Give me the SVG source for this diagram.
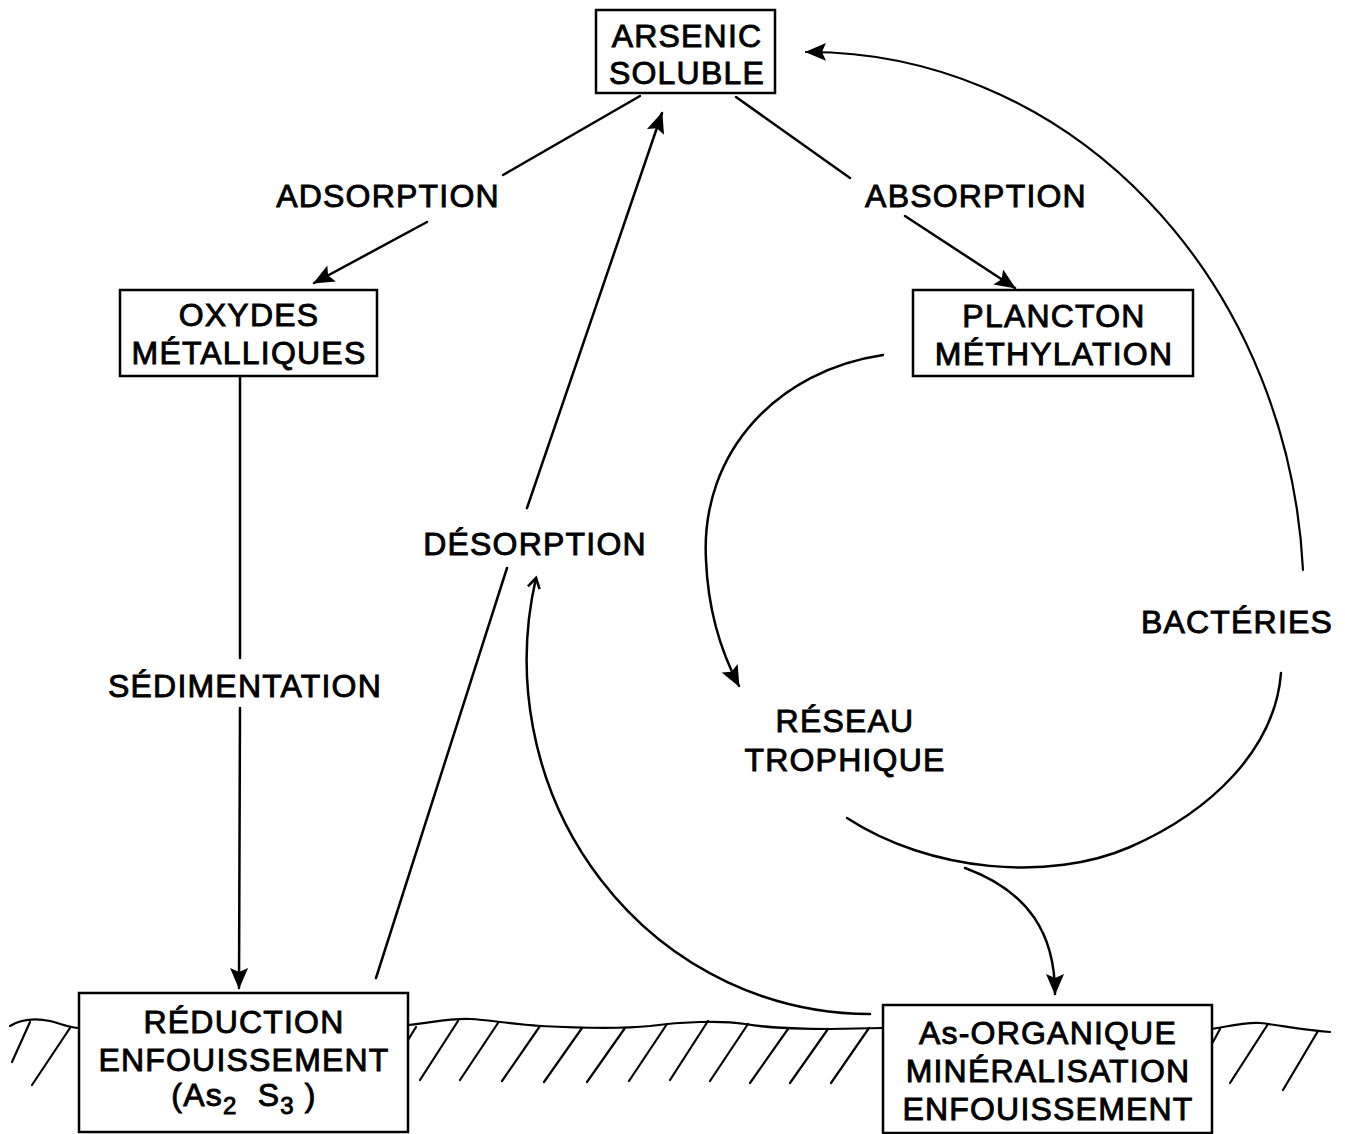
<svg xmlns="http://www.w3.org/2000/svg" width="1345" height="1134" viewBox="0 0 1345 1134">
<style>
.bx{fill:#fff;stroke:#000;stroke-width:2.5}
.t{font-family:"Liberation Sans",Arial,sans-serif;font-size:32px;letter-spacing:1.2px;text-anchor:middle;fill:#000;stroke:#000;stroke-width:0.9}
.c{fill:none;stroke:#000;stroke-width:2.5;stroke-linecap:round}
.g{fill:none;stroke:#000;stroke-width:2.2;stroke-linecap:round}
</style>
<defs>
<marker id="ah" markerUnits="userSpaceOnUse" markerWidth="24" markerHeight="20" refX="20" refY="9" orient="auto" viewBox="0 0 24 20">
<path d="M0,0 L21,9 L0,18 L4,9 Z" fill="#000"/>
</marker>
<marker id="ao" markerUnits="userSpaceOnUse" markerWidth="16" markerHeight="16" refX="12" refY="7" orient="auto" viewBox="0 0 16 16">
<path d="M2,1 L12,7 L2,13" fill="none" stroke="#000" stroke-width="2.6"/>
</marker>
</defs>
<rect width="1345" height="1134" fill="#fff"/>

<g id="ground">
<path class="g" d="M10,1026 C20,1020 35,1018 50,1021 C62,1024 70,1028 79,1028"/>
<path class="g" d="M30,1022 L12,1062 M70,1028 L32,1085"/>
<path class="g" d="M408,1025 C430,1023 450,1018 470,1019 C490,1020 510,1024 540,1026 C580,1028 620,1029 650,1026 C680,1022 720,1020 745,1024 C770,1028 790,1029 830,1029 L883,1028"/>
<path class="g" d="M416,1027 L408,1040 M458,1021 L420,1080 M498,1023 L460,1080 M540,1026 L502,1081 M582,1028 L544,1082 M625,1028 L587,1082 M667,1024 L629,1081 M708,1021 L670,1080 M748,1024 L710,1081 M788,1029 L750,1083 M828,1029 L790,1083 M869,1028 L831,1083"/>
<path class="g" d="M1212,1029 C1230,1026 1245,1022 1260,1023 C1280,1025 1300,1030 1330,1032"/>
<path class="g" d="M1220,1029 L1213,1042 M1268,1024 L1230,1083 M1318,1031 L1283,1090"/>
</g>

<g id="connectors">
<path class="c" d="M640,96 L503,175"/>
<path class="c" d="M427,222 L314,283" marker-end="url(#ah)"/>
<path class="c" d="M736,97 L850,178"/>
<path class="c" d="M905,216 L1015,288" marker-end="url(#ah)"/>
<path class="c" d="M240,377 L240,658"/>
<path class="c" d="M240,708 L239,988" marker-end="url(#ah)"/>
<path class="c" d="M376,978 L507,568"/>
<path class="c" d="M527,508 L662,113" marker-end="url(#ah)"/>
<path class="c" d="M870,1014 A343,354 0 0 1 536,578" marker-end="url(#ao)"/>
<path class="c" d="M883,355 C780,370 700,450 706,560 C708,610 720,650 739,686" marker-end="url(#ah)"/>
<path class="c" d="M847,818 C930,872 1050,882 1130,847 C1210,812 1275,750 1281,673"/>
<path class="c" d="M965,868 C1030,892 1055,935 1055,994" marker-end="url(#ah)"/>
<path class="c" style="stroke-width:2.2" d="M1303,570 A495,548 0 0 0 806,52" marker-end="url(#ah)"/>
</g>

<g id="n-arsenic">
<rect class="bx" x="596" y="10" width="179" height="83"/>
<text class="t" x="687" y="47">ARSENIC</text>
<text class="t" x="687" y="84">SOLUBLE</text>
</g>
<g id="n-oxydes">
<rect class="bx" x="120" y="290" width="257" height="86"/>
<text class="t" x="249" y="326">OXYDES</text>
<text class="t" x="249" y="364">MÉTALLIQUES</text>
</g>
<g id="n-plancton">
<rect class="bx" x="913" y="290" width="280" height="86"/>
<text class="t" x="1054" y="327">PLANCTON</text>
<text class="t" x="1054" y="365">MÉTHYLATION</text>
</g>
<g id="n-reduction">
<rect class="bx" x="79" y="993" width="329" height="139"/>
<text class="t" x="244" y="1033">RÉDUCTION</text>
<text class="t" x="244" y="1071">ENFOUISSEMENT</text>
<text class="t" x="244" y="1106">(As<tspan font-size="24" dy="8">2</tspan><tspan dy="-8" xml:space="preserve">  S</tspan><tspan font-size="24" dy="8">3</tspan><tspan dy="-8" xml:space="preserve"> )</tspan></text>
</g>
<g id="n-organique">
<rect class="bx" x="883" y="1005" width="329" height="128"/>
<text class="t" x="1048" y="1044">As-ORGANIQUE</text>
<text class="t" x="1048" y="1082">MINÉRALISATION</text>
<text class="t" x="1048" y="1120">ENFOUISSEMENT</text>
</g>
<g id="n-reseau">
<text class="t" x="845" y="732">RÉSEAU</text>
<text class="t" x="845" y="771">TROPHIQUE</text>
</g>
<g id="labels">
<text class="t" x="388" y="207">ADSORPTION</text>
<text class="t" x="976" y="207">ABSORPTION</text>
<text class="t" x="245" y="697">SÉDIMENTATION</text>
<text class="t" x="535" y="555">DÉSORPTION</text>
<text class="t" x="1237" y="633">BACTÉRIES</text>
</g>
</svg>
